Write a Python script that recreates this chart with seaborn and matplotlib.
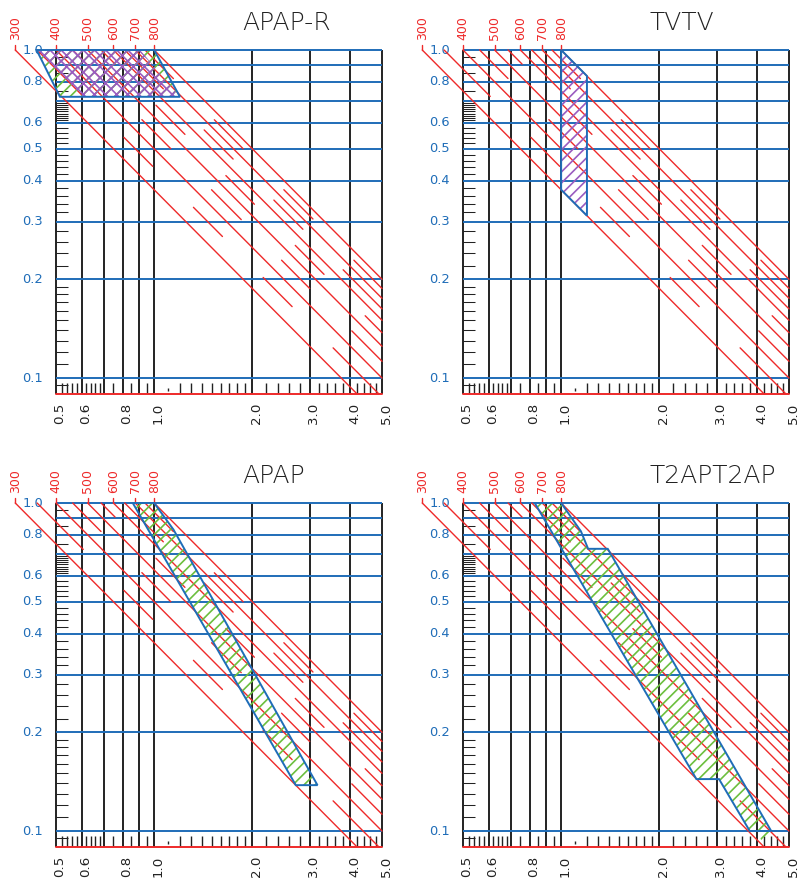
import matplotlib
matplotlib.use("Agg")
import numpy as np
import pandas as pd
import matplotlib.pyplot as plt
import matplotlib.transforms as mtransforms
from matplotlib.patches import Polygon
import seaborn as sns

sns.set_theme(style="white")
plt.rcParams["font.family"] = ["DejaVu Sans"]
plt.rcParams["hatch.linewidth"] = 1.2

# ---------------- data ----------------
titles = ["APAP-R", "TVTV", "APAP", "T2APT2AP"]

x_grid = [0.5, 0.6, 0.7, 0.8, 0.9, 1.0, 2.0, 3.0, 4.0, 5.0]
x_ticklabels = ["0.5", "0.6", "0.8", "1.0", "2.0", "3.0", "4.0", "5.0"]
y_grid = [0.1, 0.2, 0.3, 0.4, 0.5, 0.6, 0.7, 0.8, 0.9, 1.0]
y_ticklabels = ["1.0", "0.8", "0.6", "0.5", "0.4", "0.3", "0.2", "0.1"]

x_ruler = [0.52, 0.54, 0.56, 0.58, 0.62, 0.64, 0.66, 0.68, 0.75, 0.85, 0.95,
           1.1, 1.2, 1.3, 1.4, 1.5, 1.6, 1.7, 1.8, 1.9,
           2.2, 2.4, 2.6, 2.8, 3.2, 3.4, 3.6, 3.8, 4.2, 4.4, 4.6, 4.8]
y_ruler = [0.95, 0.85, 0.75, 0.69, 0.68, 0.67, 0.66, 0.65, 0.64, 0.63, 0.62, 0.61,
           0.58, 0.56, 0.54, 0.52, 0.48, 0.46, 0.44, 0.42,
           0.38, 0.36, 0.34, 0.32, 0.28, 0.26, 0.24, 0.22,
           0.19, 0.18, 0.17, 0.16, 0.15, 0.14, 0.13, 0.12, 0.11, 0.095]

speeds = [300, 350, 400, 450, 500, 550, 600, 650, 700, 750, 800]
labelled_speeds = [300, 400, 500, 600, 700, 800]
speed_ref = 800.0

# drawn stretches of each speed line (x ranges); x * y = speed / speed_ref
speed_segments = {
    300: [(0.375, 4.19)],
    350: [(0.4375, 0.606), (0.808, 0.99), (1.32, 1.62), (2.16, 2.65), (3.54, 4.89)],
    400: [(0.5, 5.0)],
    450: [(0.5625, 0.687), (0.917, 1.125), (1.50, 1.85), (2.46, 3.0), (4.04, 5.0)],
    500: [(0.625, 5.0)],
    550: [(0.6875, 0.759), (1.013, 1.243), (1.66, 2.03), (2.71, 3.32), (4.44, 5.0)],
    600: [(0.75, 5.0)],
    650: [(0.8125, 1.067), (1.424, 1.747), (2.33, 2.86), (3.80, 5.0)],
    700: [(0.875, 5.0)],
    750: [(0.9375, 1.146), (1.53, 1.876), (2.50, 3.07), (4.10, 5.0)],
    800: [(1.0, 5.0)],
}

# hatched zones: (x, y) corners
apapr_green = [(0.436, 1.0), (1.0, 1.0), (1.2, 0.72), (0.514, 0.72)]
apapr_purple = [(0.436, 1.0), (0.906, 1.0), (1.2, 0.72), (0.606, 0.72)]
tvtv_zone = [(1.0, 1.0), (1.2, 0.8333), (1.2, 0.3125), (1.0, 0.375)]
apap_zone = [(0.86, 1.0), (1.0, 1.0), (1.146, 0.83), (3.17, 0.138), (2.72, 0.138)]
t2ap_zone = [(0.83, 1.0), (1.0, 1.0), (1.15, 0.82), (1.21, 0.725), (1.39, 0.725),
             (4.41, 0.1), (3.79, 0.1), (3.05, 0.144), (2.6, 0.144)]
t2ap_tail = [(4.0, 0.1), (4.41, 0.1), (4.15, 0.0915)]

# ---------------- layout ----------------
W, H = 798, 880
XMIN, XMAX = 0.5, 5.0
YMIN, YMAX = 0.0894, 1.0
PW, PH = 326, 344
panel_px = [(56, 50), (463, 50), (56, 503), (463, 503)]

BLUE = "#1f6db8"
RED = "#ee2a2a"
BLACK = "#222222"
GREEN = "#6cbf3e"
PURPLE = "#9a5cc0"

fig = plt.figure(figsize=(W / 100, H / 100), dpi=100)


def line_frame(segments):
    rows = []
    k = 0
    for s, parts in segments.items():
        c = s / speed_ref
        for x0, x1 in parts:
            x0 = max(x0, c)
            x1 = min(x1, XMAX, c / YMIN)
            if x1 <= x0:
                continue
            rows.append((k, x0, c / x0))
            rows.append((k, x1, c / x1))
            k += 1
    return pd.DataFrame(rows, columns=["seg", "x", "y"])


red_df = line_frame(speed_segments)

# (corners, hatch colour, hatch pattern, outlined)
zones = [
    [(apapr_green, GREEN, "///", True), (apapr_purple, PURPLE, "xxx", False)],
    [(tvtv_zone, PURPLE, "///", True)],
    [(apap_zone, GREEN, "///", True)],
    [(t2ap_zone, GREEN, "///", True), (t2ap_tail, GREEN, "///", False)],
]

for i, (lx, ty) in enumerate(panel_px):
    ax = fig.add_axes([lx / W, 1 - (ty + PH) / H, PW / W, PH / H])
    ax.set_xscale("log")
    ax.set_yscale("log")
    ax.set_xlim(XMIN, XMAX)
    ax.set_ylim(YMIN, YMAX)
    ax.axis("off")

    # grid
    for xv in x_grid:
        ax.plot([xv, xv], [YMIN, YMAX], color=BLACK, lw=1.4, zorder=2,
                solid_capstyle="butt", clip_on=False)
    for yv in y_grid:
        ax.plot([XMIN, XMAX], [yv, yv], color=BLUE, lw=1.4, zorder=3,
                solid_capstyle="butt", clip_on=False)
    ax.plot([XMIN, XMAX], [YMIN, YMIN], color=RED, lw=1.4, zorder=3,
            clip_on=False)

    # rulers
    tick_end_x = XMIN * 10 ** (12 / PW * np.log10(XMAX / XMIN))
    for yv in y_ruler:
        ax.plot([XMIN, tick_end_x], [yv, yv], color=BLACK, lw=0.75, zorder=2,
                solid_capstyle="butt")
    for xv in x_ruler:
        top = 0.0965 if xv != 1.1 else 0.0935
        bot = YMIN if xv != 1.1 else 0.0915
        ax.plot([xv, xv], [bot, top], color=BLACK, lw=1.0, zorder=2,
                solid_capstyle="butt")

    # speed lines
    sns.lineplot(data=red_df, x="x", y="y", units="seg", estimator=None,
                 sort=False, color=RED, lw=1.0, legend=False, ax=ax,
                 zorder=4, clip_on=False)

    # speed labels and stubs
    lab_tr = mtransforms.offset_copy(ax.transData, fig=fig, x=0, y=10, units="dots")
    for s in labelled_speeds:
        c = s / speed_ref
        ax.plot([c, c], [1.0, 1.0 * 10 ** (5 / 328)], color=RED, lw=1.0,
                clip_on=False, zorder=4)
        ax.text(c, 1.0, str(s), transform=lab_tr, rotation=90, color=RED,
                fontsize=9, ha="center", va="bottom")

    # hatched zones
    for pts, col, hatch, _ in zones[i]:
        ax.add_patch(Polygon(pts, closed=True, fill=False, hatch=hatch,
                             edgecolor=col, lw=0, zorder=5, clip_on=False))
    for pts, col, hatch, outlined in zones[i]:
        if outlined:
            ax.add_patch(Polygon(pts, closed=True, fill=False, edgecolor=BLUE,
                                 lw=1.4, zorder=6, clip_on=False))

    # tick labels
    ylab_tr = mtransforms.offset_copy(ax.transData, fig=fig, x=-13, y=0, units="dots")
    for lab in y_ticklabels:
        ax.text(XMIN, float(lab), lab, transform=ylab_tr, color=BLUE,
                fontsize=9.4, ha="right", va="center")
    xlab_tr = mtransforms.offset_copy(ax.transData, fig=fig, x=4, y=-9, units="dots")
    for lab in x_ticklabels:
        ax.text(float(lab), YMIN, lab, transform=xlab_tr, color=BLACK,
                fontsize=9.6, rotation=90, ha="center", va="top")

    # panel title
    fig.text((lx + 186) / W, 1 - (ty - 27) / H, titles[i], fontsize=18,
             color=BLACK, ha="left", va="center", fontweight="light")

fig.savefig("out.png", dpi=100)
